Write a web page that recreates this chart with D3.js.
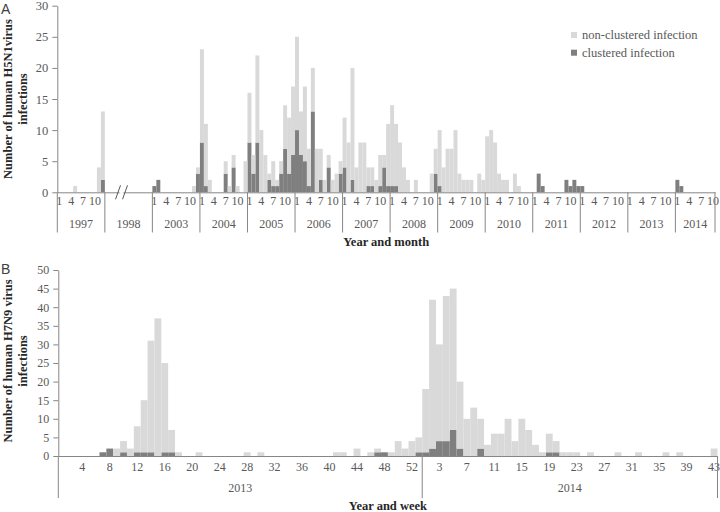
<!DOCTYPE html>
<html>
<head>
<meta charset="utf-8">
<script src="https://cdn.jsdelivr.net/npm/d3@7/dist/d3.min.js"></script>
<style>
  body { margin: 0; background: #fff; }
  text { font-family: "Liberation Serif", "Times New Roman", serif; }
</style>
</head>
<body>
<svg id="chart" width="720" height="512"></svg>
<script>
// ---- Panel A: H5N1, cases per month ----
var yearsA = ["1997", "1998", "2003", "2004", "2005", "2006", "2007", "2008", "2009", "2010", "2011", "2012", "2013", "2014"];
var monthsInYearA = [12, 12, 12, 12, 12, 12, 12, 12, 12, 12, 12, 12, 12, 10];
var breakYearA = "1998";

var h5n1Clustered = [].concat(
  [0, 0, 0, 0, 0, 0, 0, 0, 0, 0, 0, 2],     // 1997
  [0, 0, 0, 0, 0, 0, 0, 0, 0, 0, 0, 0],     // 1998
  [1, 2, 0, 0, 0, 0, 0, 0, 0, 0, 0, 3],     // 2003
  [8, 1, 0, 0, 0, 0, 3, 0, 4, 0, 0, 0],     // 2004
  [8, 3, 8, 0, 0, 2, 1, 1, 3, 7, 3, 6],     // 2005
  [10, 6, 5, 1, 13, 0, 2, 0, 4, 0, 0, 3],   // 2006
  [4, 0, 2, 0, 0, 0, 1, 1, 0, 1, 4, 1],     // 2007
  [1, 1, 0, 0, 0, 0, 0, 0, 0, 0, 0, 3],     // 2008
  [1, 0, 0, 0, 0, 0, 0, 0, 0, 0, 0, 0],     // 2009
  [0, 0, 0, 0, 0, 0, 0, 0, 0, 0, 0, 0],     // 2010
  [0, 3, 1, 0, 0, 0, 0, 0, 2, 1, 2, 1],     // 2011
  [1, 0, 0, 0, 0, 0, 0, 0, 0, 0, 0, 0],     // 2012
  [0, 0, 0, 0, 0, 0, 0, 0, 0, 0, 0, 0],     // 2013
  [2, 1, 0, 0, 0, 0, 0, 0, 0, 0]            // 2014
);
var h5n1NonClustered = [].concat(
  [0, 0, 0, 0, 1, 0, 0, 0, 0, 0, 4, 11],    // 1997
  [0, 0, 0, 0, 0, 0, 0, 0, 0, 0, 0, 0],     // 1998
  [0, 0, 0, 0, 0, 0, 0, 0, 0, 0, 1, 1],     // 2003
  [15, 10, 2, 0, 0, 0, 2, 1, 2, 1, 0, 5],   // 2004
  [8, 3, 14, 10, 6, 1, 4, 1, 2, 7, 9, 11],  // 2005
  [15, 7, 12, 6, 7, 7, 5, 2, 2, 2, 3, 2],   // 2006
  [8, 8, 18, 4, 8, 8, 3, 3, 2, 5, 2, 10],   // 2007
  [13, 10, 8, 4, 2, 0, 2, 0, 0, 0, 3, 4],   // 2008
  [9, 4, 7, 7, 10, 3, 2, 2, 2, 0, 3, 2],    // 2009
  [9, 10, 8, 3, 2, 2, 0, 3, 1, 0, 0, 0],    // 2010
  [0, 0, 0, 0, 0, 0, 0, 0, 0, 0, 0, 0],     // 2011
  [0, 0, 0, 0, 0, 0, 0, 0, 0, 0, 0, 0],     // 2012
  [0, 0, 0, 0, 0, 0, 0, 0, 0, 0, 0, 0],     // 2013
  [0, 0, 0, 0, 0, 0, 0, 0, 0, 0]            // 2014
);
var yTicksA = [0, 5, 10, 15, 20, 25, 30];

// ---- Panel B: H7N9, cases per week ----
var yearsB = ["2013", "2014"];
var weeksInYearB = [53, 43];

var h7n9Clustered = [].concat(
  [0, 0, 0, 0, 0, 0, 1, 2, 0, 1], [0, 1, 1, 1, 0, 1, 1, 0, 0, 0],
  [0, 0, 0, 0, 0, 0, 0, 0, 0, 0], [0, 0, 0, 0, 0, 0, 0, 0, 0, 0],
  [0, 0, 0, 0, 0, 0, 1, 1, 0, 0], [0, 0, 1],                        // 2013
  [1, 2, 4, 4, 7, 2, 0, 0, 2, 0], [0, 0, 0, 0, 0, 0, 0, 0, 1, 1],
  [0, 0, 0, 0, 0, 0, 0, 0, 0, 0], [0, 0, 0, 0, 0, 0, 0, 0, 0, 0],
  [0, 0, 0]                                                          // 2014
);
var h7n9NonClustered = [].concat(
  [0, 0, 0, 0, 0, 0, 0, 0, 2, 3], [2, 7, 14, 30, 37, 24, 6, 1, 0, 0],
  [1, 0, 0, 0, 0, 0, 0, 1, 0, 1], [0, 0, 0, 0, 0, 0, 0, 0, 0, 0],
  [1, 1, 0, 2, 0, 1, 1, 0, 1, 4], [2, 4, 4],                        // 2013
  [17, 40, 26, 39, 38, 18, 10, 13, 8, 3], [6, 6, 10, 4, 10, 7, 3, 1, 5, 3],
  [1, 1, 1, 0, 1, 0, 0, 0, 1, 0], [0, 1, 0, 0, 0, 1, 0, 1, 0, 0],
  [0, 0, 2]                                                          // 2014
);
var yTicksB = [0, 5, 10, 15, 20, 25, 30, 35, 40, 45, 50];

var legendLabels = ["non-clustered infection", "clustered infection"];

var colorNon = "#d9d9d9",
  colorClu = "#7f7f7f",
  axisColor = "#868686",
  labelColor = "#595959";

var svg = d3.select("#chart");

// flatten year/period lists into one category per bar
function buildPeriods(years, counts) {
  var out = [];
  years.forEach(function(y, yi) {
    for (var p = 1; p <= counts[yi]; p++) out.push({ year: y, period: p, start: p == 1 });
  });
  return out;
}

function drawPanel(opt) {
  var periods = buildPeriods(opt.years, opt.counts);
  var x = d3.scaleBand()
    .domain(d3.range(periods.length))
    .range([opt.x0, opt.x1])
    .padding(0);
  var y = d3.scaleLinear()
    .domain([0, opt.yMax])
    .range([opt.y0, opt.y1]);
  var g = svg.append("g");

  // bars: clustered at the bottom, non-clustered stacked on top
  g.append("g").selectAll("rect.clu")
    .data(periods)
    .enter()
    .append("rect")
    .attr("x", function(d, i) { return x(i); })
    .attr("width", x.bandwidth())
    .attr("y", function(d, i) { return y(opt.clu[i]); })
    .attr("height", function(d, i) { return y(0) - y(opt.clu[i]); })
    .attr("fill", colorClu);

  g.append("g").selectAll("rect.non")
    .data(periods)
    .enter()
    .append("rect")
    .attr("x", function(d, i) { return x(i); })
    .attr("width", x.bandwidth())
    .attr("y", function(d, i) { return y(opt.clu[i] + opt.non[i]); })
    .attr("height", function(d, i) { return y(opt.clu[i]) - y(opt.clu[i] + opt.non[i]); })
    .attr("fill", colorNon);

  // y axis
  var yAxis = g.append("g")
    .attr("transform", "translate(" + opt.x0 + ",0)")
    .call(d3.axisLeft(y).tickValues(opt.yTicks).tickSize(5).tickSizeOuter(0).tickPadding(4));
  yAxis.selectAll("path, line").attr("stroke", axisColor);
  yAxis.selectAll("text").attr("fill", labelColor).style("font-size", opt.yFont + "px")
    .style("font-family", '"Liberation Serif", serif');

  // x axis with period labels
  var xAxis = g.append("g")
    .attr("transform", "translate(0," + opt.y0 + ")")
    .call(d3.axisBottom(x)
      .tickValues(d3.range(periods.length).filter(function(i) { return opt.showLabel(periods[i], i); }))
      .tickFormat(function(i) { return periods[i].period; })
      .tickSize(0).tickSizeOuter(0).tickPadding(opt.labelPad));
  xAxis.select(".domain").attr("stroke", axisColor);
  xAxis.selectAll("text").attr("fill", labelColor).style("font-size", "12px")
    .style("font-family", '"Liberation Serif", serif');

  // year separators and year labels
  var bounds = [];
  periods.forEach(function(d, i) { if (d.start) bounds.push(i); });
  var edges = bounds.map(function(i) { return x(i); }).concat([opt.x1]);
  g.append("g").selectAll("line")
    .data(edges)
    .enter()
    .append("line")
    .attr("x1", function(d) { return d; })
    .attr("x2", function(d) { return d; })
    .attr("y1", opt.y0)
    .attr("y2", opt.sepBottom)
    .attr("stroke", axisColor);
  g.append("g").selectAll("text")
    .data(opt.years)
    .enter()
    .append("text")
    .attr("x", function(d, i) { return (edges[i] + edges[i + 1]) / 2; })
    .attr("y", opt.yearY)
    .attr("text-anchor", "middle")
    .attr("fill", labelColor)
    .style("font-size", "12px")
    .text(function(d) { return d; });

  // axis titles
  g.append("text")
    .attr("x", (opt.x0 + opt.x1) / 2)
    .attr("y", opt.titleY)
    .attr("text-anchor", "middle")
    .attr("fill", "#262626")
    .style("font-size", "12.5px")
    .style("font-weight", "bold")
    .text(opt.xTitle);

  var yt = g.append("g").attr("transform", "translate(0," + opt.yTitleCy + ") rotate(-90)");
  opt.yTitle.forEach(function(line, li) {
    yt.append("text")
      .attr("x", 0)
      .attr("y", 12 + li * 14.5)
      .attr("text-anchor", "middle")
      .attr("fill", "#262626")
      .style("font-size", "12.5px")
      .style("font-weight", "bold")
      .text(line);
  });

  // panel letter
  svg.append("text")
    .attr("x", 1)
    .attr("y", opt.letterY)
    .attr("fill", "#404040")
    .style("font-family", '"Liberation Sans", Arial, sans-serif')
    .style("font-size", "14px")
    .text(opt.letter);

  return { x: x, y: y, periods: periods, g: g };
}

var panelA = drawPanel({
  years: yearsA, counts: monthsInYearA,
  clu: h5n1Clustered, non: h5n1NonClustered,
  x0: 57.3, x1: 715, y0: 192.3, y1: 5.7, yMax: 30, yTicks: yTicksA, yFont: 12.5,
  showLabel: function(d) { return d.year != breakYearA && (d.period - 1) % 3 == 0; },
  labelPad: 4, sepBottom: 232.5, yearY: 228, titleY: 246,
  xTitle: "Year and month",
  yTitle: ["Number of human H5N1virus", "infections"], yTitleCy: 99,
  letter: "A", letterY: 14
});

var panelB = drawPanel({
  years: yearsB, counts: weeksInYearB,
  clu: h7n9Clustered, non: h7n9NonClustered,
  x0: 58.3, x1: 717.5, y0: 456, y1: 270, yMax: 50, yTicks: yTicksB, yFont: 12,
  showLabel: function(d, i) { return i % 4 == 3; },
  labelPad: 6, sepBottom: 498, yearY: 492, titleY: 510,
  xTitle: "Year and week",
  yTitle: ["Number of human H7N9 virus", "infections"], yTitleCy: 361,
  letter: "B", letterY: 274
});

// break marks for the omitted 1998 stretch on panel A
var breakIdx = panelA.periods.findIndex(function(d) { return d.year == breakYearA; });
var bx = panelA.x(breakIdx) + panelA.x.bandwidth() * 3.2;
var by = panelA.y(0);
svg.append("rect")
  .attr("x", bx + 2).attr("y", by - 1.5)
  .attr("width", 4).attr("height", 3)
  .attr("fill", "#fff");
[0, 7].forEach(function(dx) {
  svg.append("line")
    .attr("x1", bx + dx - 2).attr("y1", by + 7)
    .attr("x2", bx + dx + 3).attr("y2", by - 7)
    .attr("stroke", "#595959")
    .attr("stroke-width", 1);
});

// legend (panel A)
var legend = svg.append("g").attr("transform", "translate(571,32)");
legend.selectAll("rect")
  .data(legendLabels)
  .enter()
  .append("rect")
  .attr("x", 0)
  .attr("y", function(d, i) { return i * 17.7; })
  .attr("width", 6)
  .attr("height", 6)
  .attr("fill", function(d, i) { return i == 0 ? colorNon : colorClu; });
legend.selectAll("text")
  .data(legendLabels)
  .enter()
  .append("text")
  .attr("x", 11)
  .attr("y", function(d, i) { return i * 17.7 + 7; })
  .attr("fill", labelColor)
  .style("font-size", "12.5px")
  .text(function(d) { return d; });
</script>
</body>
</html>
